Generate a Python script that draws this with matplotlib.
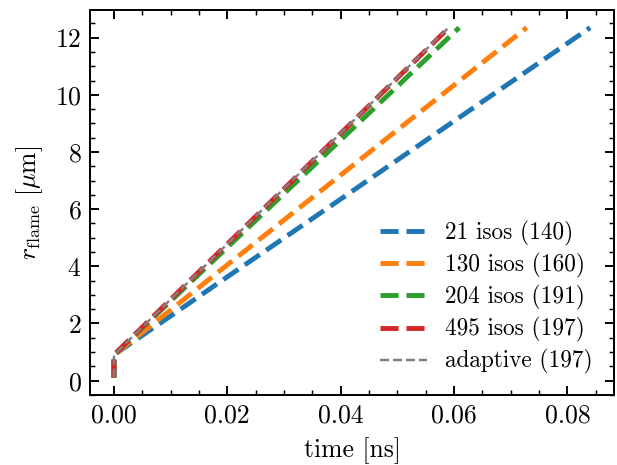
import numpy as np
import matplotlib
matplotlib.use("Agg")
import matplotlib.pyplot as plt

# flame radius vs time, one curve per mechanism size
t_21 = [0.0, 0.0, 0.01, 0.02, 0.03, 0.04, 0.05, 0.06, 0.07, 0.084]
r_21 = [0.1, 0.9, 2.26, 3.63, 4.99, 6.35, 7.72, 9.08, 10.44, 12.35]

t_130 = [0.0, 0.0, 0.01, 0.02, 0.03, 0.04, 0.05, 0.06, 0.0728]
r_130 = [0.1, 0.9, 2.47, 4.05, 5.62, 7.19, 8.77, 10.34, 12.35]

t_204 = [0.0, 0.0, 0.01, 0.02, 0.03, 0.04, 0.05, 0.0609]
r_204 = [0.1, 0.9, 2.78, 4.66, 6.54, 8.42, 10.30, 12.35]

t_495 = [0.0, 0.0, 0.01, 0.02, 0.03, 0.04, 0.05, 0.0591]
r_495 = [0.1, 0.9, 2.84, 4.78, 6.71, 8.65, 10.59, 12.35]

t_adapt = [0.0, 0.0, 0.01, 0.02, 0.03, 0.04, 0.05, 0.059]
r_adapt = [0.1, 0.9, 2.84, 4.78, 6.72, 8.66, 10.60, 12.35]

labels = ["21 isos (140)", "130 isos (160)", "204 isos (191)", "495 isos (197)", "adaptive (197)"]

plt.rcParams["font.family"] = "serif"
plt.rcParams["font.serif"] = ["cmr10"]
plt.rcParams["mathtext.fontset"] = "cm"
plt.rcParams["axes.formatter.use_mathtext"] = True
plt.rcParams["font.size"] = 10.5
plt.rcParams["axes.linewidth"] = 0.8
plt.rcParams["xtick.direction"] = "in"
plt.rcParams["ytick.direction"] = "in"
plt.rcParams["xtick.top"] = True
plt.rcParams["ytick.right"] = True
plt.rcParams["xtick.minor.visible"] = True
plt.rcParams["ytick.minor.visible"] = True
plt.rcParams["xtick.major.size"] = 3.7
plt.rcParams["ytick.major.size"] = 3.7
plt.rcParams["xtick.minor.size"] = 2.0
plt.rcParams["ytick.minor.size"] = 2.0
plt.rcParams["xtick.major.width"] = 0.8
plt.rcParams["ytick.major.width"] = 0.8
plt.rcParams["xtick.minor.width"] = 0.6
plt.rcParams["ytick.minor.width"] = 0.6

fig, ax = plt.subplots(figsize=(3.5, 2.638), dpi=176.3)

ax.plot(t_21, r_21, "--", color="C0", lw=2, label=labels[0])
ax.plot(t_130, r_130, "--", color="C1", lw=2, label=labels[1])
ax.plot(t_204, r_204, "--", color="C2", lw=2, label=labels[2])
ax.plot(t_495, r_495, "--", color="C3", lw=2, label=labels[3])
ax.plot(t_adapt, r_adapt, "--", color="gray", lw=1, label=labels[4])

ax.set_xlabel("time [ns]")
ax.set_ylabel(r"$r_\mathrm{flame}$ [$\mu$m]")
ax.set_xticks([0.0, 0.02, 0.04, 0.06, 0.08])
ax.set_yticks([0, 2, 4, 6, 8, 10, 12])
ax.xaxis.set_major_formatter(matplotlib.ticker.FormatStrFormatter("%.2f"))

ax.legend(loc="lower right", frameon=False, fontsize=9.5, labelspacing=0.3)

plt.subplots_adjust(left=0.146, right=0.995, top=0.978, bottom=0.150)
plt.savefig("out.png", dpi=176.3)
